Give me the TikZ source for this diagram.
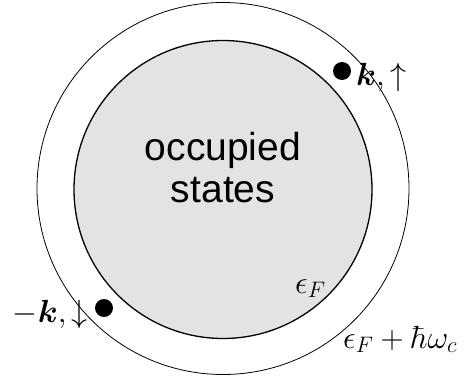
\RequirePackage{fix-cm}
\documentclass[tikz,border=0pt]{standalone}
\usepackage{amsmath}
\usepackage{bm}
\usepackage{fontspec}
\setsansfont{Liberation Sans}
\usepackage{tikz}

\begin{document}
\begin{tikzpicture}[x=1pt,y=-1pt]
    \tikzset{shell/.style = {shape=circle,draw,line width=0.8pt,minimum size=372pt,inner sep=0pt}}
    \tikzset{fermi/.style = {shape=circle,draw,line width=1.3pt,fill={rgb,255:red,227;green,227;blue,227},minimum size=298pt,inner sep=0pt}}
    \tikzset{particle/.style = {shape=circle,fill=black,minimum size=18pt,inner sep=0pt}}
    \tikzset{lbl/.style = {inner sep=0pt,font=\fontsize{32}{38}\selectfont}}

    \useasboundingbox (0,0) rectangle (464,381);

    % surfaces
    \node[shell] (outer) at (223,188.5) {};
    \node[fermi] (inner) at (223,189.5) {};

    \node[align=center,inner sep=0pt,font=\sffamily\fontsize{39}{42}\selectfont] (occ) at (223,168) {occupied\\states};

    % pair of electrons
    \node[particle] (up) at (342,71) {};
    \node[particle] (down) at (104,308) {};
    \node[lbl,anchor=base west] (upl) at (356,85) {$\bm{k},\uparrow$};
    \node[lbl,anchor=base east] (downl) at (88,322) {$-\bm{k},\downarrow$};

    % energies
    \node[lbl,anchor=base west] (ef) at (295,293) {$\epsilon_F$};
    \node[lbl,anchor=base west] (efw) at (343,348) {$\epsilon_F+\hbar\omega_c$};
\end{tikzpicture}
\end{document}
